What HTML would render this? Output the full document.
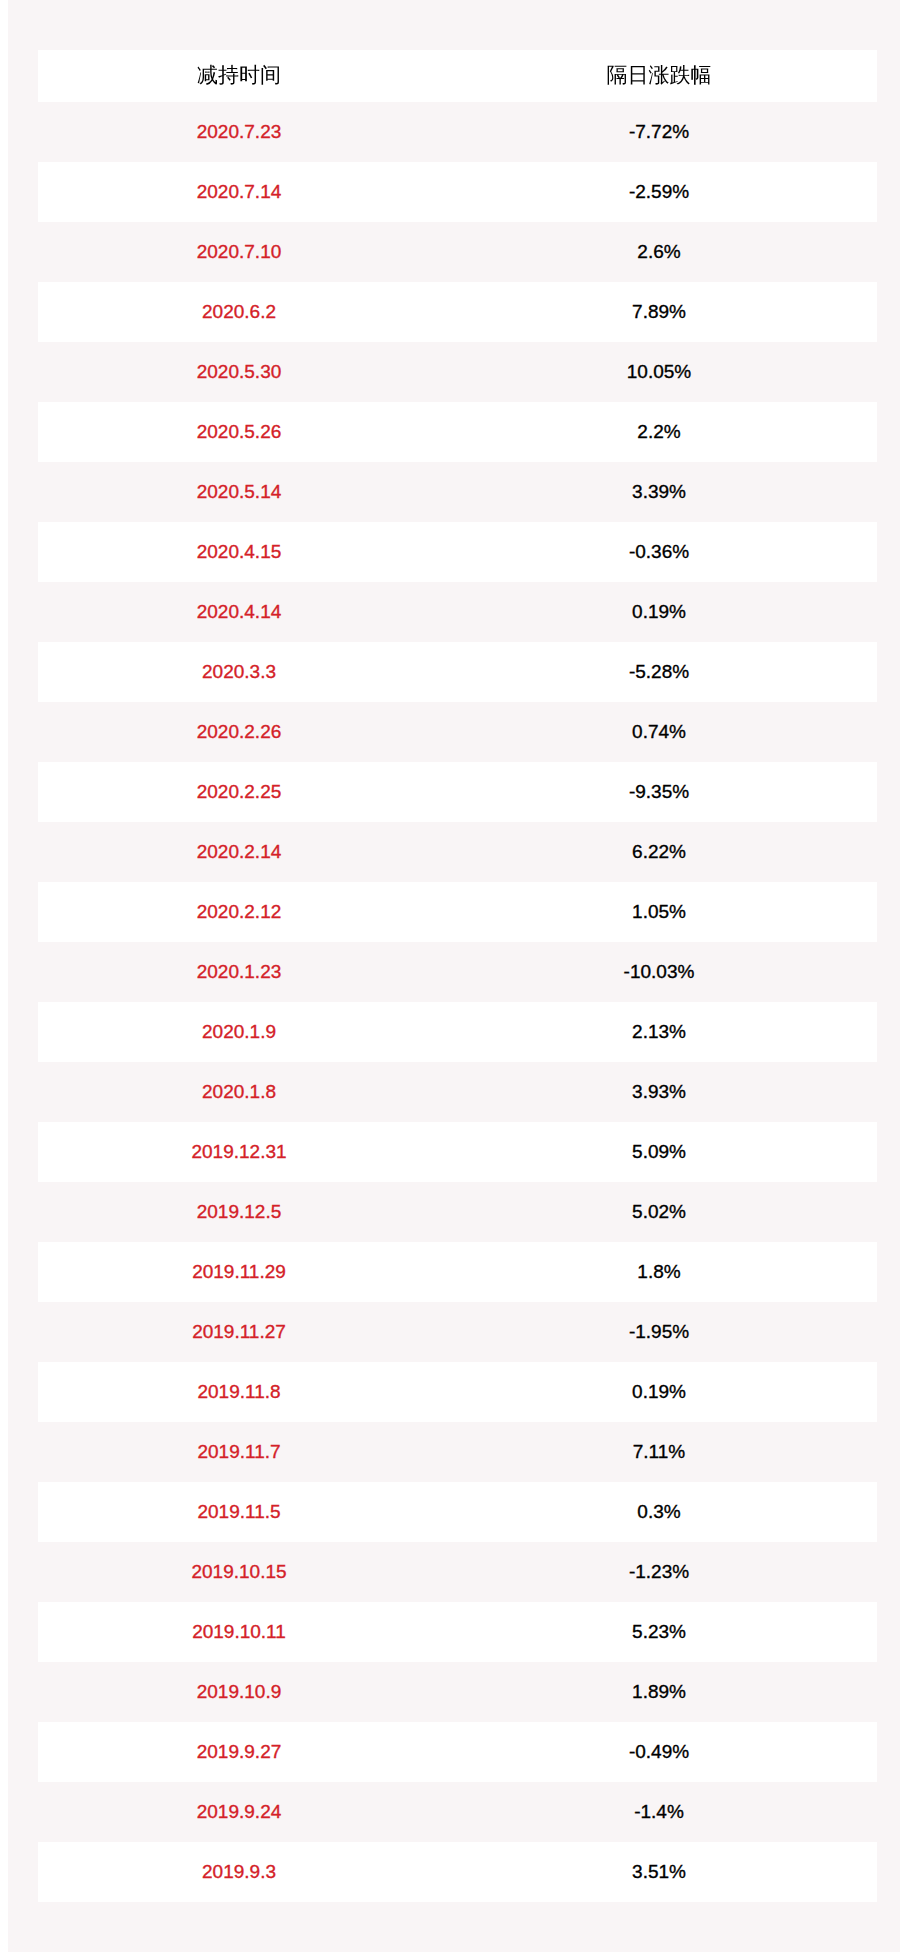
<!DOCTYPE html>
<html lang="zh-CN"><head><meta charset="utf-8"><title>减持时间</title>
<style>
html,body{margin:0;padding:0;background:#fff;}
body{width:900px;height:1952px;overflow:hidden;position:relative;}
.wrap{position:absolute;left:8px;top:0;width:892px;height:1952px;background:#f9f5f6;}
table{position:absolute;left:30px;top:50px;width:839px;border-collapse:collapse;table-layout:fixed;
font-family:"Liberation Sans","WenQuanYi Zen Hei",sans-serif;}
td,th{padding:0 18px 0 0;text-align:center;white-space:nowrap;}
th{height:52px;background:#fff;font-weight:normal;font-size:21px;color:#000;}
th span{position:relative;top:-1px;}
td{height:60px;font-size:19px;color:#000;-webkit-text-stroke:0.35px currentColor;}
td.d{color:#d42128;}
td+td,th+th{padding-right:17px;}
tbody tr:nth-child(even){background:#fff;}
</style></head><body><div class="wrap">
<table><colgroup><col style="width:420px"><col style="width:419px"></colgroup><thead><tr><th><span>减持时间</span></th><th><span>隔日涨跌幅</span></th></tr></thead>
<tbody>
<tr><td class="d">2020.7.23</td><td>-7.72%</td></tr>
<tr><td class="d">2020.7.14</td><td>-2.59%</td></tr>
<tr><td class="d">2020.7.10</td><td>2.6%</td></tr>
<tr><td class="d">2020.6.2</td><td>7.89%</td></tr>
<tr><td class="d">2020.5.30</td><td>10.05%</td></tr>
<tr><td class="d">2020.5.26</td><td>2.2%</td></tr>
<tr><td class="d">2020.5.14</td><td>3.39%</td></tr>
<tr><td class="d">2020.4.15</td><td>-0.36%</td></tr>
<tr><td class="d">2020.4.14</td><td>0.19%</td></tr>
<tr><td class="d">2020.3.3</td><td>-5.28%</td></tr>
<tr><td class="d">2020.2.26</td><td>0.74%</td></tr>
<tr><td class="d">2020.2.25</td><td>-9.35%</td></tr>
<tr><td class="d">2020.2.14</td><td>6.22%</td></tr>
<tr><td class="d">2020.2.12</td><td>1.05%</td></tr>
<tr><td class="d">2020.1.23</td><td>-10.03%</td></tr>
<tr><td class="d">2020.1.9</td><td>2.13%</td></tr>
<tr><td class="d">2020.1.8</td><td>3.93%</td></tr>
<tr><td class="d">2019.12.31</td><td>5.09%</td></tr>
<tr><td class="d">2019.12.5</td><td>5.02%</td></tr>
<tr><td class="d">2019.11.29</td><td>1.8%</td></tr>
<tr><td class="d">2019.11.27</td><td>-1.95%</td></tr>
<tr><td class="d">2019.11.8</td><td>0.19%</td></tr>
<tr><td class="d">2019.11.7</td><td>7.11%</td></tr>
<tr><td class="d">2019.11.5</td><td>0.3%</td></tr>
<tr><td class="d">2019.10.15</td><td>-1.23%</td></tr>
<tr><td class="d">2019.10.11</td><td>5.23%</td></tr>
<tr><td class="d">2019.10.9</td><td>1.89%</td></tr>
<tr><td class="d">2019.9.27</td><td>-0.49%</td></tr>
<tr><td class="d">2019.9.24</td><td>-1.4%</td></tr>
<tr><td class="d">2019.9.3</td><td>3.51%</td></tr>
</tbody></table></div></body></html>
